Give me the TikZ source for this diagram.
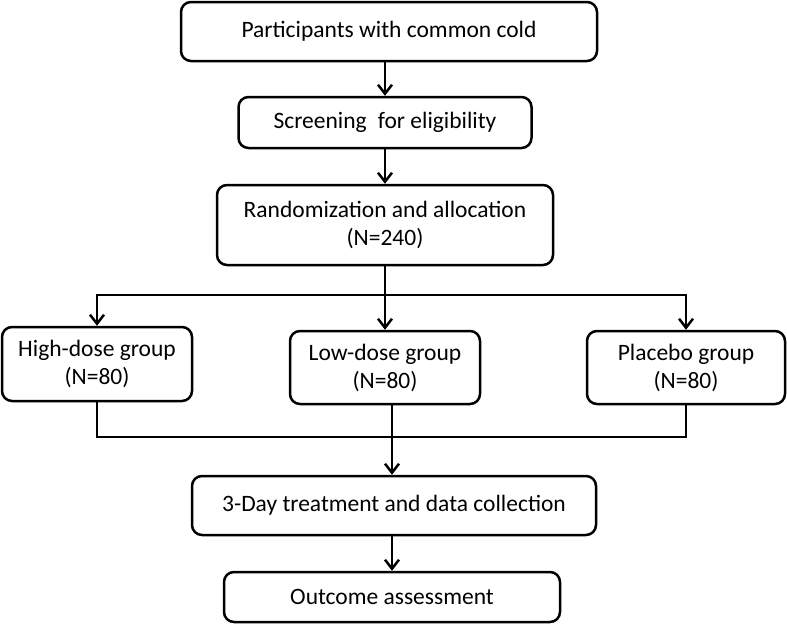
\documentclass[tikz,border=0pt]{standalone}
\usepackage{fontspec}
\setmainfont{Carlito}
\usetikzlibrary{arrows.meta}
\begin{document}
\begin{tikzpicture}[x=1pt,y=-1pt,
  box/.style={draw, line width=2.5pt, rounded corners=10pt, align=center,
    font=\fontsize{23.5}{28}\selectfont, inner sep=0pt},
  conn/.style={line width=2.5pt},
  arr/.style={conn, -{Straight Barb[length=9pt,width=14pt,line width=2.5pt]}}]
\useasboundingbox (0,0) rectangle (787,625);
\node[box, minimum width=416, minimum height=59] (p) at (389,31.5) {Participants with common cold};
\node[box, minimum width=293, minimum height=51] (s) at (385,122.5) {Screening\hspace{0.25em} for eligibility};
\node[box, minimum width=336, minimum height=80] (r) at (385,225) {Randomization and allocation\\(N=240)};
\node[box, minimum width=190, minimum height=74] (h) at (97,364) {High-dose group\\(N=80)};
\node[box, minimum width=190, minimum height=73] (l) at (385,367.5) {Low-dose group\\(N=80)};
\node[box, minimum width=198, minimum height=73] (pl) at (686,367.5) {Placebo group\\(N=80)};
\node[box, minimum width=404, minimum height=59] (t) at (394,505.5) {3-Day treatment and data collection};
\node[box, minimum width=336, minimum height=50] (o) at (392,597) {Outcome assessment};
\coordinate (b) at (385,295);
\coordinate (m) at (392,437);
\draw[arr] (s.north |- p.south) -- (s.north);
\draw[arr] (s.south) -- (r.north);
\draw[arr] (r.south) -- (l.north);
\draw[arr] (b) -| (h.north);
\draw[arr] (b) -| (pl.north);
\draw[conn] (h.south) |- (m);
\draw[conn] (pl.south) |- (m);
\draw[conn] (m |- l.south) -- (m);
\draw[arr] (m) -- (m |- t.north);
\draw[arr] (m |- t.south) -- (o.north);
\end{tikzpicture}
\end{document}
